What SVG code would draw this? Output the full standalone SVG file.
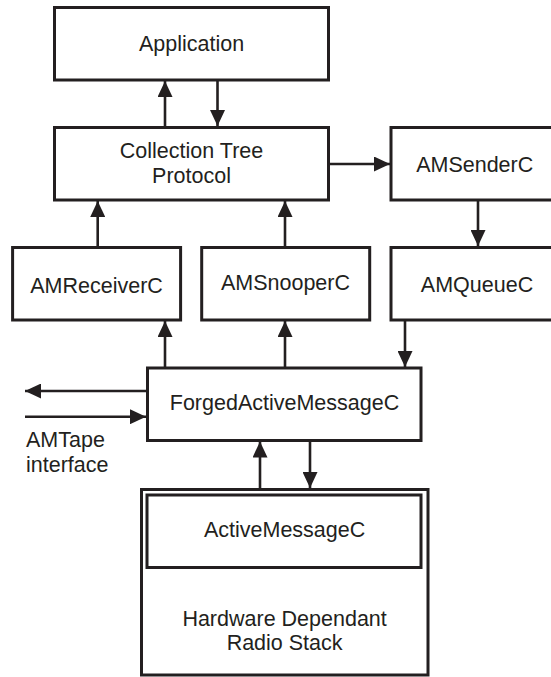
<svg xmlns="http://www.w3.org/2000/svg" width="551" height="677" viewBox="0 0 551 677">
<style>
.box{fill:#fff;stroke:#231f20;stroke-width:3}
.t{font-family:"Liberation Sans",Arial,sans-serif;font-size:21.5px;fill:#231f20;text-anchor:middle}
.tl{font-family:"Liberation Sans",Arial,sans-serif;font-size:21.5px;fill:#231f20}
.c{stroke:#231f20;stroke-width:2.6;fill:none}
</style>
<defs>
<marker id="ah" viewBox="0 0 16 15" refX="16" refY="7.5" markerWidth="16" markerHeight="15" markerUnits="userSpaceOnUse" orient="auto">
<path d="M0,0 L16,7.5 L0,15 Z" fill="#231f20"/>
</marker>
</defs>
<rect width="551" height="677" fill="#fff"/>
<g id="connectors">
<line class="c" x1="165" y1="127" x2="165" y2="81" marker-end="url(#ah)"/>
<line class="c" x1="217.5" y1="80" x2="217.5" y2="126" marker-end="url(#ah)"/>
<line class="c" x1="329" y1="164" x2="390" y2="164" marker-end="url(#ah)"/>
<line class="c" x1="478" y1="200" x2="478" y2="246" marker-end="url(#ah)"/>
<line class="c" x1="97.7" y1="247" x2="97.7" y2="201" marker-end="url(#ah)"/>
<line class="c" x1="285" y1="247" x2="285" y2="201" marker-end="url(#ah)"/>
<line class="c" x1="165" y1="368" x2="165" y2="321" marker-end="url(#ah)"/>
<line class="c" x1="285" y1="368" x2="285" y2="321" marker-end="url(#ah)"/>
<line class="c" x1="405" y1="320" x2="405" y2="367" marker-end="url(#ah)"/>
<line class="c" x1="147" y1="391" x2="25" y2="391" marker-end="url(#ah)"/>
<line class="c" x1="25" y1="416.7" x2="146" y2="416.7" marker-end="url(#ah)"/>
<line class="c" x1="260" y1="489" x2="260" y2="441.5" marker-end="url(#ah)"/>
<line class="c" x1="310" y1="440.5" x2="310" y2="488" marker-end="url(#ah)"/>
</g>
<g id="application">
<rect class="box" x="54.5" y="7.5" width="274" height="72.5"/>
<text class="t" x="191.5" y="50.7">Application</text>
</g>
<g id="ctp">
<rect class="box" x="54.5" y="127.5" width="274" height="72.5"/>
<text class="t" x="191.5" y="158.3">Collection Tree</text>
<text class="t" x="191.5" y="182.7">Protocol</text>
</g>
<g id="amsenderc">
<rect class="box" x="391" y="127.5" width="175" height="72.5"/>
<text class="t" x="474.7" y="171.7">AMSenderC</text>
</g>
<g id="amreceiverc">
<rect class="box" x="12.6" y="247.5" width="168" height="72.5"/>
<text class="t" x="96.6" y="292.7">AMReceiverC</text>
</g>
<g id="amsnooperc">
<rect class="box" x="201.7" y="247.5" width="168" height="72.5"/>
<text class="t" x="285.5" y="290">AMSnooperC</text>
</g>
<g id="amqueuec">
<rect class="box" x="391" y="247.5" width="175" height="72.5"/>
<text class="t" x="477" y="291.7">AMQueueC</text>
</g>
<g id="forged">
<rect class="box" x="147.5" y="368" width="273.5" height="72.5"/>
<text class="t" x="284.5" y="410">ForgedActiveMessageC</text>
</g>
<g id="amtape">
<text class="tl" x="26" y="447.3">AMTape</text>
<text class="tl" x="26" y="471.7">interface</text>
</g>
<g id="radiostack">
<rect class="box" x="141.5" y="489.5" width="286.5" height="185.5"/>
<text class="t" x="284.6" y="626">Hardware Dependant</text>
<text class="t" x="284.6" y="650">Radio Stack</text>
</g>
<g id="activemessagec">
<rect class="box" x="147" y="495" width="274" height="72.5"/>
<text class="t" x="284.6" y="536.7">ActiveMessageC</text>
</g>
</svg>
